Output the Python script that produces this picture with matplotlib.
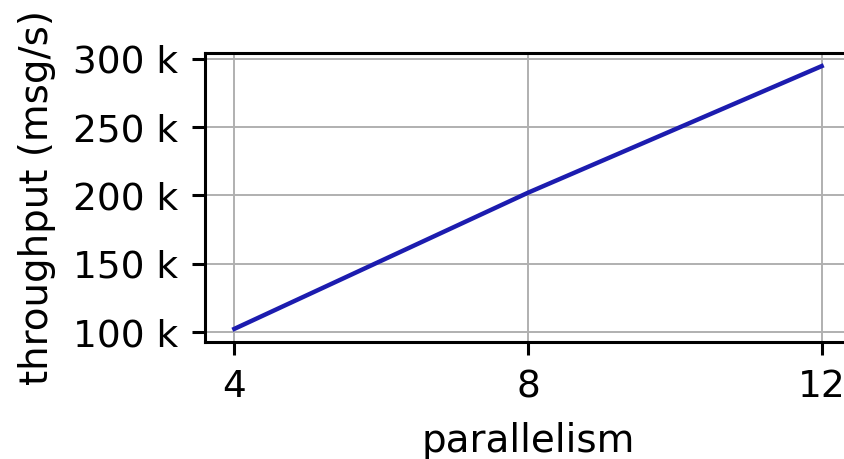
import matplotlib
matplotlib.use("Agg")
import matplotlib.pyplot as plt
from matplotlib.ticker import EngFormatter

# throughput measured at each parallelism level
parallelism = [4, 8, 12]
throughput = [102500, 202000, 294500]

fig = plt.figure(figsize=(8.45, 4.59), dpi=100)
ax = fig.add_axes([205 / 845, 1 - 342 / 459, 646 / 845, 289 / 459])

ax.plot(parallelism, throughput, color="#1c1caf", linewidth=3.2)

ax.set_xticks(parallelism)
ax.set_yticks([100000, 150000, 200000, 250000, 300000])
ax.yaxis.set_major_formatter(EngFormatter())
ax.grid(True, color="#b0b0b0", linewidth=1.4)
ax.set_axisbelow(True)

for s in ax.spines.values():
    s.set_linewidth(2.2)
ax.tick_params(labelsize=27, width=2.2, length=9.5)
ax.tick_params(axis="y", pad=10)
ax.tick_params(axis="x", pad=10)

ax.set_xlabel("parallelism", fontsize=28, labelpad=12)
ax.set_ylabel("throughput (msg/s)", fontsize=28, labelpad=12)

fig.savefig("out.png", dpi=100)
